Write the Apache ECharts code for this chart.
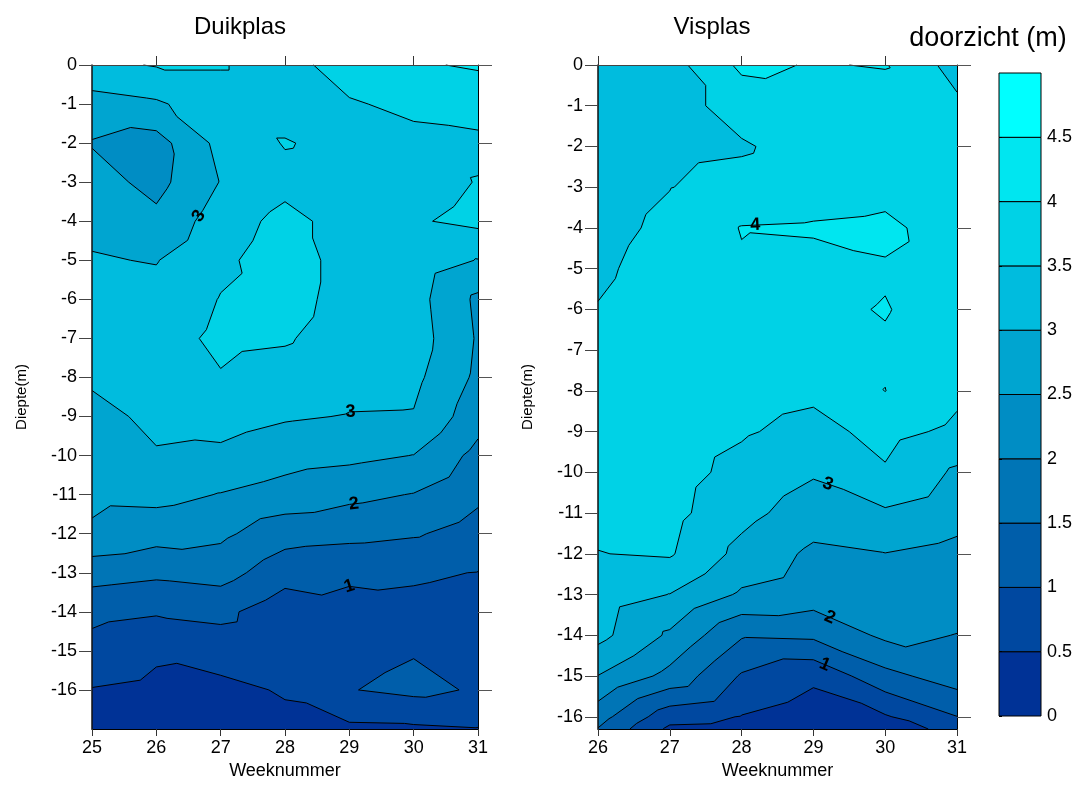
<!DOCTYPE html>
<html>
<head>
<meta charset="utf-8">
<script src="https://cdn.jsdelivr.net/npm/echarts@6/dist/echarts.min.js"></script>
<style>
  html, body { margin: 0; padding: 0; background: #fff; }
  #chart { width: 1080px; height: 785px; }
</style>
</head>
<body>
<div id="chart"></div>
<script>
// Doorzicht (m) per weeknummer en diepte, Duikplas en Visplas.

// Contour classes and their fill colours
const levels = [0, 0.5, 1, 1.5, 2, 2.5, 3, 3.5, 4, 4.5, 5];
const bandColors = ['#003296', '#0048A0', '#005EAA', '#0075B6', '#008DC4',
                    '#00A5D0', '#00BCDE', '#00D2E6', '#00E6F0', '#00FFFF'];
const contourLevels = [0.5, 1, 1.5, 2, 2.5, 3, 3.5, 4, 4.5];
const colorbarLabels = [0, 0.5, 1, 1.5, 2, 2.5, 3, 3.5, 4, 4.5];

// Duikplas: one column of values per week, depths 0 .. -17 m
const duikWeeks = [25, 26, 27, 28, 29, 30, 31];
const duikDepths = [0, -1, -2, -3, -4, -5, -6, -7, -8, -9, -10, -11, -12, -13, -14, -15, -16, -17];
const duikWeek25 = [3.38, 2.8, 2.47, 2.7, 2.9, 3.03, 3.2, 3.25, 3.1, 2.8, 2.7, 2.62, 2.42, 1.7, 1.15, 0.8, 0.48, 0.25];
const duikWeek26 = [3.53, 2.93, 2.3, 2.35, 2.62, 2.98, 3.15, 3.3, 3.3, 3.15, 2.95, 2.65, 2.2, 1.6, 1.05, 0.57, 0.4, 0.25];
const duikWeek27 = [3.53, 3.3, 3.15, 3.02, 3.25, 3.4, 3.52, 3.6, 3.47, 3.2, 2.9, 2.48, 2.1, 1.7, 1.12, 0.75, 0.35, 0.2];
const duikWeek28 = [3.3, 3.3, 3.53, 3.35, 3.65, 3.75, 3.7, 3.55, 3.3, 3.05, 2.7, 2.3, 1.7, 1.2, 0.7, 0.65, 0.55, 0.35];
const duikWeek29 = [3.75, 3.45, 3.35, 3.3, 3.3, 3.3, 3.3, 3.25, 3.15, 2.98, 2.62, 2.12, 1.64, 1.08, 0.85, 0.85, 0.98, 0.4];
const duikWeek30 = [3.95, 3.62, 3.35, 3.3, 3.45, 3.3, 3.2, 3.25, 3.12, 2.97, 2.49, 1.98, 1.55, 1.05, 0.9, 0.97, 1.12, 0.42];
const duikWeek31 = [4.05, 3.7, 3.4, 3.52, 3.62, 2.98, 2.4, 2.45, 2.4, 2.2, 1.85, 1.6, 1.3, 0.99, 0.85, 0.85, 0.95, 0.48];

// Visplas: one column of values per week, depths 0 .. -16.3 m
const visWeeks = [26, 27, 28, 29, 30, 31];
const visDepths = [0, -1, -2, -3, -4, -5, -6, -7, -8, -9, -10, -11, -12, -13, -14, -15, -16, -16.3];
const visWeek26 = [3.2, 3.2, 3.25, 3.3, 3.35, 3.42, 3.52, 3.6, 3.65, 3.65, 3.6, 3.6, 3.49, 3.25, 3.15, 2.49, 1.7, 1.48];
const visWeek27 = [3.3, 3.3, 3.4, 3.49, 3.6, 3.7, 3.75, 3.8, 3.8, 3.75, 3.7, 3.65, 3.55, 2.99, 2.42, 1.85, 0.7, 0.4];
const visWeek28 = [4.1, 3.7, 3.45, 3.65, 4.02, 3.95, 3.85, 3.8, 3.7, 3.55, 3.35, 3.15, 2.85, 2.43, 1.55, 0.95, 0.48, 0.35];
const visWeek29 = [3.97, 3.8, 3.7, 3.75, 4.05, 3.85, 3.92, 3.85, 3.6, 3.35, 3.05, 2.75, 2.4, 2.25, 1.6, 0.6, 0.25, 0.2];
const visWeek30 = [4.03, 3.75, 3.75, 3.85, 4.1, 3.96, 4.02, 3.95, 4.005, 3.65, 3.45, 2.93, 2.49, 2.3, 2.1, 1.35, 0.45, 0.35];
const visWeek31 = [3.3, 3.6, 3.7, 3.75, 3.77, 3.8, 3.8, 3.75, 3.6, 3.4, 2.92, 2.7, 2.35, 2.2, 1.99, 1.75, 0.99, 0.6];

// Axis ticks
const duikWeekTicks = [25, 26, 27, 28, 29, 30, 31];
const visWeekTicks = [26, 27, 28, 29, 30, 31];
const topWeekTicks = [26, 28, 30];
const depthTicks = [0, -1, -2, -3, -4, -5, -6, -7, -8, -9, -10, -11, -12, -13, -14, -15, -16];
const sideDepthTicks = [0, -2, -4, -6, -8, -10, -12, -14, -16];

// Contour labels: [level, week, approximate depth]
const duikContourLabels = [[3, 26.66, -4.36], [3, 29.02, -8.94], [2, 29.07, -11.27], [1, 29.0, -13.24]];
const visContourLabels = [[4, 28.19, -3.94], [3, 29.2, -10.28], [2, 29.23, -13.7], [1, 29.16, -14.76]];

const FONT = '"Liberation Sans", Arial, sans-serif';

// ---- triangulated linear contouring ----
function buildTriangles(weeks, depths, cols) {
  const tris = [];
  for (let i = 0; i < weeks.length - 1; i++) {
    for (let j = 0; j < depths.length - 1; j++) {
      const a = [weeks[i], depths[j], cols[i][j]];
      const b = [weeks[i + 1], depths[j], cols[i + 1][j]];
      const c = [weeks[i], depths[j + 1], cols[i][j + 1]];
      const d = [weeks[i + 1], depths[j + 1], cols[i + 1][j + 1]];
      tris.push([a, b, d], [a, d, c]);
    }
  }
  return tris;
}

function clipPoly(poly, lvl) {
  const out = [];
  for (let k = 0; k < poly.length; k++) {
    const p = poly[k], q = poly[(k + 1) % poly.length];
    const pIn = p[2] >= lvl, qIn = q[2] >= lvl;
    if (pIn) out.push(p);
    if (pIn !== qIn) {
      const t = (lvl - p[2]) / (q[2] - p[2]);
      out.push([p[0] + t * (q[0] - p[0]), p[1] + t * (q[1] - p[1]), lvl]);
    }
  }
  return out;
}

// Region v >= lower class bound, painted from low to high class
function classRegions(tris) {
  const regions = [];
  for (let k = 0; k < levels.length - 1; k++) {
    const polys = [];
    tris.forEach(t => {
      const p = clipPoly(t, levels[k]);
      if (p.length >= 3) polys.push(p);
    });
    regions.push(polys);
  }
  return regions;
}

function contourSegments(tris, L) {
  const segs = [];
  tris.forEach(t => {
    const pts = [];
    for (let k = 0; k < 3; k++) {
      const p = t[k], q = t[(k + 1) % 3];
      if ((p[2] >= L) !== (q[2] >= L)) {
        const s = (L - p[2]) / (q[2] - p[2]);
        pts.push([p[0] + s * (q[0] - p[0]), p[1] + s * (q[1] - p[1])]);
      }
    }
    if (pts.length === 2) segs.push(pts);
  });
  return segs;
}

function placeLabel(segs, week, depthHint) {
  let best = null, bestD = Infinity;
  segs.forEach(s => {
    const x0 = s[0][0], x1 = s[1][0];
    if ((week - x0) * (week - x1) <= 0 && x0 !== x1) {
      const t = (week - x0) / (x1 - x0);
      const y = s[0][1] + t * (s[1][1] - s[0][1]);
      const d = Math.abs(y - depthHint);
      if (d < bestD) { bestD = d; best = { x: week, y: y, seg: s }; }
    }
  });
  return best;
}

function buildPlot(weeks, depths, cols, labelSpecs) {
  const tris = buildTriangles(weeks, depths, cols);
  const regions = classRegions(tris);
  const lines = contourLevels.map(L => contourSegments(tris, L));
  const labels = labelSpecs.map(spec => {
    const segs = lines[contourLevels.indexOf(spec[0])];
    const pos = placeLabel(segs, spec[1], spec[2]);
    return pos ? { level: spec[0], x: pos.x, y: pos.y, seg: pos.seg } : null;
  }).filter(Boolean);
  return { regions, lines, labels };
}

const duik = buildPlot(duikWeeks, duikDepths,
  [duikWeek25, duikWeek26, duikWeek27, duikWeek28, duikWeek29, duikWeek30, duikWeek31], duikContourLabels);
const vis = buildPlot(visWeeks, visDepths,
  [visWeek26, visWeek27, visWeek28, visWeek29, visWeek30, visWeek31], visContourLabels);

const fmt = v => v.toFixed(2);

// One compound path per class so the triangles fill without seams
function fillSeries(plot, axisIdx) {
  return {
    type: 'custom', xAxisIndex: axisIdx, yAxisIndex: axisIdx, z: 2, silent: true,
    data: plot.regions.map((b, k) => [0, 0, k]),
    encode: { x: 0, y: 1 },
    renderItem: (params, api) => {
      const k = api.value(2);
      let d = '';
      plot.regions[k].forEach(poly => {
        poly.forEach((p, i) => {
          const c = api.coord([p[0], p[1]]);
          d += (i === 0 ? 'M' : 'L') + fmt(c[0]) + ' ' + fmt(c[1]);
        });
        d += 'Z';
      });
      return {
        type: 'path',
        shape: { pathData: d || 'M0 0' },
        style: { fill: bandColors[k], stroke: null }
      };
    }
  };
}

function lineSeries(plot, axisIdx) {
  return {
    type: 'custom', xAxisIndex: axisIdx, yAxisIndex: axisIdx, z: 3, silent: true,
    data: plot.lines.map((s, k) => [0, 0, k]),
    encode: { x: 0, y: 1 },
    renderItem: (params, api) => {
      const segs = plot.lines[api.value(2)];
      let d = '';
      segs.forEach(s => {
        const a = api.coord(s[0]), b = api.coord(s[1]);
        d += 'M' + fmt(a[0]) + ' ' + fmt(a[1]) + 'L' + fmt(b[0]) + ' ' + fmt(b[1]);
      });
      return {
        type: 'path',
        shape: { pathData: d || 'M0 0' },
        style: { fill: null, stroke: '#000', lineWidth: 1 }
      };
    }
  };
}

function labelSeries(plot, axisIdx) {
  return {
    type: 'custom', xAxisIndex: axisIdx, yAxisIndex: axisIdx, z: 4, silent: true,
    data: plot.labels.map(l => [l.x, l.y, l.level]),
    encode: { x: 0, y: 1 },
    renderItem: (params, api) => {
      const lab = plot.labels[params.dataIndex];
      const p = api.coord([lab.x, lab.y]);
      const a = api.coord(lab.seg[0]), b = api.coord(lab.seg[1]);
      let ang = Math.atan2(-(b[1] - a[1]), b[0] - a[0]);
      if (ang > Math.PI / 2) ang -= Math.PI;
      if (ang < -Math.PI / 2) ang += Math.PI;
      return {
        type: 'text', x: p[0], y: p[1], rotation: ang,
        style: {
          text: String(lab.level), fill: '#000',
          font: 'bold 18px ' + FONT, align: 'center', verticalAlign: 'middle'
        }
      };
    }
  };
}

const colorbarSeries = {
  type: 'custom', xAxisIndex: 4, yAxisIndex: 4, z: 2, silent: true,
  data: bandColors.map((c, k) => [0, levels[k], levels[k + 1], k]),
  encode: { x: 0, y: 1 },
  renderItem: (params, api) => {
    const tl = api.coord([0, api.value(2)]);
    const br = api.coord([1, api.value(1)]);
    return {
      type: 'rect',
      shape: { x: tl[0], y: tl[1], width: br[0] - tl[0], height: br[1] - tl[1] },
      style: { fill: bandColors[api.value(3)], stroke: '#000', lineWidth: 1 }
    };
  }
};

const tickLabelStyle = { color: '#000', fontSize: 18, fontFamily: FONT };
const frameLine = { show: true, onZero: false, lineStyle: { color: '#000', width: 1 } };

function bottomAxis(grid, min, max, ticks) {
  return {
    gridIndex: grid, type: 'value', min: min, max: max, position: 'bottom', z: 10,
    axisLine: frameLine,
    axisTick: { show: true, inside: false, length: 7, customValues: ticks, lineStyle: { color: '#333' } },
    splitLine: { show: false },
    axisLabel: Object.assign({ customValues: ticks, margin: 10 }, tickLabelStyle),
    name: 'Weeknummer', nameLocation: 'middle', nameGap: 33,
    nameTextStyle: { color: '#000', fontSize: 18, fontFamily: FONT }
  };
}
function topAxis(grid, min, max) {
  return {
    gridIndex: grid, type: 'value', min: min, max: max, position: 'top', z: 10,
    axisLine: { show: true, onZero: false, lineStyle: { color: '#444', width: 1 } },
    axisTick: { show: true, inside: false, length: 9, customValues: topWeekTicks, lineStyle: { color: '#333' } },
    axisLabel: { show: false }, splitLine: { show: false }
  };
}
function leftAxis(grid, min) {
  return {
    gridIndex: grid, type: 'value', min: min, max: 0, position: 'left', z: 10,
    axisLine: { show: true, onZero: false, lineStyle: { color: '#111', width: 1.5 } },
    axisTick: { show: true, inside: false, length: 13, customValues: depthTicks, lineStyle: { color: '#444' } },
    axisLabel: Object.assign({ customValues: depthTicks, margin: 15 }, tickLabelStyle),
    splitLine: { show: false },
    name: 'Diepte(m)', nameLocation: 'middle', nameGap: 63, nameRotate: 90,
    nameTextStyle: { color: '#000', fontSize: 15, fontFamily: FONT }
  };
}
function rightAxis(grid, min) {
  return {
    gridIndex: grid, type: 'value', min: min, max: 0, position: 'right', z: 10,
    axisLine: frameLine,
    axisTick: { show: true, inside: false, length: 14, customValues: sideDepthTicks, lineStyle: { color: '#555' } },
    axisLabel: { show: false }, splitLine: { show: false }
  };
}

const option = {
  animation: false,
  backgroundColor: '#fff',
  grid: [
    { left: 92, top: 65, width: 386, height: 669 },
    { left: 598, top: 65, width: 359, height: 668 },
    { left: 999, top: 73, width: 42, height: 643 }
  ],
  xAxis: [
    bottomAxis(0, 25, 31, duikWeekTicks),
    topAxis(0, 25, 31),
    bottomAxis(1, 26, 31, visWeekTicks),
    topAxis(1, 26, 31),
    { gridIndex: 2, type: 'value', min: 0, max: 1, show: false }
  ],
  yAxis: [
    leftAxis(0, -17),
    rightAxis(0, -17),
    leftAxis(1, -16.3),
    rightAxis(1, -16.3),
    {
      gridIndex: 2, type: 'value', min: 0, max: 5, position: 'right', z: 10,
      axisLine: { show: false },
      axisTick: { show: true, inside: false, length: 3, customValues: colorbarLabels, lineStyle: { color: '#000' } },
      axisLabel: { customValues: colorbarLabels, margin: 6, color: '#000', fontSize: 18, fontFamily: FONT,
                   verticalAlign: 'middle' },
      splitLine: { show: false }
    }
  ],
  graphic: [
    { type: 'text', x: 240, y: 27, style: { text: 'Duikplas', font: '24px ' + FONT, fill: '#000', align: 'center', verticalAlign: 'middle' } },
    { type: 'text', x: 712, y: 27, style: { text: 'Visplas', font: '24px ' + FONT, fill: '#000', align: 'center', verticalAlign: 'middle' } },
    { type: 'text', x: 988, y: 39, style: { text: 'doorzicht (m)', font: '27px ' + FONT, fill: '#000', align: 'center', verticalAlign: 'middle' } }
  ],
  series: [
    fillSeries(duik, 0), lineSeries(duik, 0), labelSeries(duik, 0),
    fillSeries(vis, 2), lineSeries(vis, 2), labelSeries(vis, 2),
    colorbarSeries
  ]
};

const chart = echarts.init(document.getElementById('chart'), null, { renderer: 'canvas' });
chart.setOption(option);
</script>
</body>
</html>
